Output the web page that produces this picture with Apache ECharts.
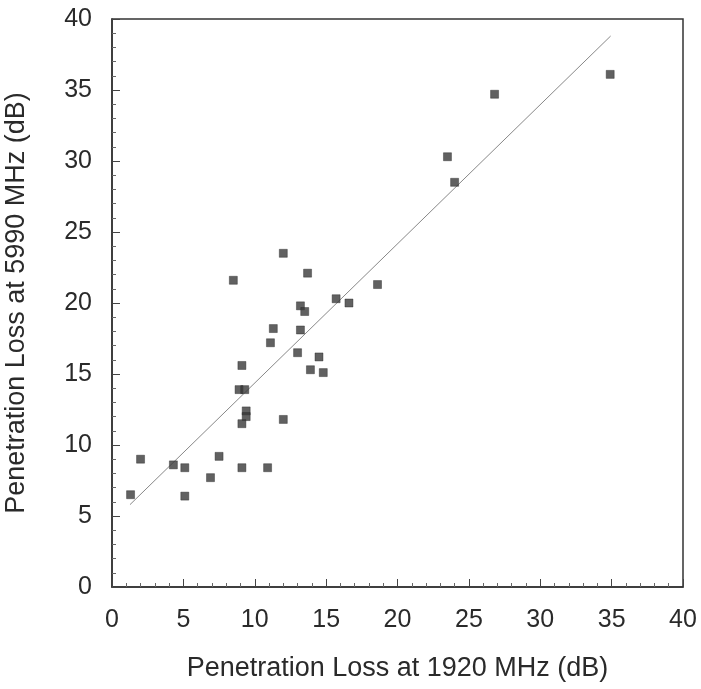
<!DOCTYPE html>
<html><head><meta charset="utf-8">
<script src="https://cdn.jsdelivr.net/npm/echarts@6/dist/echarts.min.js"></script>
<style>html,body{margin:0;padding:0;background:#fff}#c{width:701px;height:689px}</style>
</head><body><div id="c"></div>
<script>
// Measured penetration loss (dB)
const loss1920 = [1.3, 2.0, 4.3, 5.1, 5.1, 6.9, 7.5, 9.1, 10.9, 12.0, 9.1, 8.9, 9.3, 9.4, 9.4, 9.1,
  11.1, 11.3, 13.0, 13.2, 13.2, 13.5, 13.9, 14.5, 14.8, 15.7, 16.6, 12.0, 8.5, 13.7, 18.6, 26.8, 23.5, 24.0, 34.9];
const loss5990 = [6.5, 9.0, 8.6, 8.4, 6.4, 7.7, 9.2, 8.4, 8.4, 11.8, 15.6, 13.9, 13.9, 12.4, 12.0, 11.5,
  17.2, 18.2, 16.5, 18.1, 19.8, 19.4, 15.3, 16.2, 15.1, 20.3, 20.0, 23.5, 21.6, 22.1, 21.3, 34.7, 30.3, 28.5, 36.1];
// Fitted line endpoints
const fitX = [1.26, 34.93];
const fitY = [5.8, 38.8];
const xTicks = [0, 5, 10, 15, 20, 25, 30, 35, 40];
const yTicks = [0, 5, 10, 15, 20, 25, 30, 35, 40];

const font = 'Liberation Sans, Arial, sans-serif';
const chart = echarts.init(document.getElementById('c'), null, {renderer: 'canvas'});
const axisCommon = {
  type: 'value', min: 0, max: 40, interval: 5,
  axisLine: {show: true, lineStyle: {color: '#333', width: 1.5}},
  axisTick: {show: true, inside: true, length: 8, lineStyle: {color: '#444', width: 1}},
  minorTick: {show: true, splitNumber: 5, length: 4, lineStyle: {color: '#666', width: 1}},
  splitLine: {show: false},
  axisLabel: {color: '#2a2a2a', fontSize: 25, fontFamily: font},
  nameTextStyle: {color: '#2a2a2a', fontSize: 27, fontFamily: font}
};
chart.setOption({
  animation: false,
  backgroundColor: '#fff',
  grid: {left: 112, right: 18, top: 19, bottom: 102, containLabel: false, outerBoundsMode: 'none',
    show: true, borderColor: '#333', borderWidth: 1.5, backgroundColor: 'transparent'},
  xAxis: Object.assign({}, axisCommon, {
    name: 'Penetration Loss at 1920 MHz (dB)', nameLocation: 'middle', nameGap: 68,
    axisLabel: Object.assign({}, axisCommon.axisLabel, {margin: 21,
      formatter: v => xTicks.includes(v) ? String(v) : ''})
  }),
  yAxis: Object.assign({}, axisCommon, {
    name: 'Penetration Loss at 5990 MHz (dB)', nameLocation: 'middle', nameGap: 82,
    axisLabel: Object.assign({}, axisCommon.axisLabel, {margin: 20,
      formatter: v => yTicks.includes(v) ? String(v) : ''})
  }),
  series: [
    {type: 'line', data: fitX.map((x, i) => [x, fitY[i]]), symbol: 'none',
     lineStyle: {color: '#888', width: 1}, silent: true, z: 1},
    {type: 'scatter', data: loss1920.map((x, i) => [x, loss5990[i]]), symbol: 'rect', symbolSize: 8,
     itemStyle: {color: '#3a3a3a', borderColor: '#222', borderWidth: 0.5}, z: 2}
  ]
});
</script></body></html>
